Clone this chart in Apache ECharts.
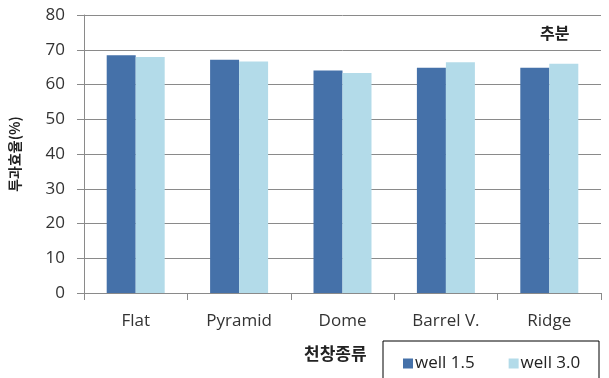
<!DOCTYPE html>
<html>
<head>
<meta charset="utf-8">
<script src="https://cdn.jsdelivr.net/npm/echarts@6/dist/echarts.min.js"></script>
<style>
  html, body { margin: 0; padding: 0; background: #fff; }
  #chart { width: 609px; height: 378px; }
</style>
</head>
<body>
<div id="chart"></div>
<script>
// Skylight types and transmission efficiency (%) at the autumn equinox
const categories = ['Flat', 'Pyramid', 'Dome', 'Barrel V.', 'Ridge'];
const well15 = [68.4, 67.1, 64.0, 64.8, 64.8];
const well30 = [67.9, 66.6, 63.3, 66.4, 66.0];
const yTicks = [0, 10, 20, 30, 40, 50, 60, 70, 80];

const latin = '"Open Sans", "Noto Sans", sans-serif';
const korean = '"Noto Sans CJK KR", sans-serif';

const chart = echarts.init(document.getElementById('chart'), null, { renderer: 'canvas' });
chart.setOption({
  animation: false,
  backgroundColor: '#ffffff',
  grid: { left: 82, right: 8, top: 15, bottom: 85, containLabel: false },
  xAxis: {
    type: 'category',
    data: categories,
    axisLine: { lineStyle: { color: '#8a8a8a', width: 1 } },
    axisTick: { show: true, length: 7, lineStyle: { color: '#8a8a8a' } },
    axisLabel: { color: '#333', fontFamily: latin, fontSize: 17, margin: 20 }
  },
  yAxis: {
    type: 'value',
    min: yTicks[0],
    max: yTicks[yTicks.length - 1],
    interval: 10,
    name: '투과효율(%)',
    nameLocation: 'middle',
    nameRotate: 90,
    nameGap: 62,
    nameTextStyle: { fontFamily: korean, fontSize: 14, fontWeight: 'bold', color: '#222' },
    axisLine: { show: true, lineStyle: { color: '#8a8a8a', width: 1 } },
    axisTick: { show: true, length: 7, lineStyle: { color: '#8a8a8a' } },
    axisLabel: { color: '#333', fontFamily: latin, fontSize: 17, margin: 19 },
    splitLine: { show: true, lineStyle: { color: '#8a8a8a', width: 1 } }
  },
  legend: {
    left: 398,
    top: 350,
    itemWidth: 10,
    itemHeight: 10,
    itemGap: 34,
    icon: 'rect',
    textStyle: { fontFamily: latin, fontSize: 17, color: '#222', padding: [0, 0, 0, -3] },
    data: ['well 1.5', 'well 3.0']
  },
  graphic: [
    {
      type: 'rect',
      shape: { x: 383, y: 341, width: 216, height: 50 },
      style: { fill: 'none', stroke: '#000', lineWidth: 1 },
      silent: true
    },
    {
      type: 'text',
      left: 304,
      top: 345,
      style: { text: '천창종류', font: 'bold 17px "Noto Sans CJK KR"', fill: '#222' }
    },
    {
      type: 'text',
      left: 540,
      top: 25,
      style: { text: '추분', font: 'bold 16px "Noto Sans CJK KR"', fill: '#222' }
    }
  ],
  series: [
    {
      name: 'well 1.5',
      type: 'bar',
      data: well15,
      barWidth: 29,
      barGap: '0%',
      barCategoryGap: '44%',
      itemStyle: { color: '#4571a9' }
    },
    {
      name: 'well 3.0',
      type: 'bar',
      data: well30,
      barWidth: 29,
      barGap: '0%',
      itemStyle: { color: '#b3dbe9' }
    }
  ]
});
</script>
</body>
</html>
